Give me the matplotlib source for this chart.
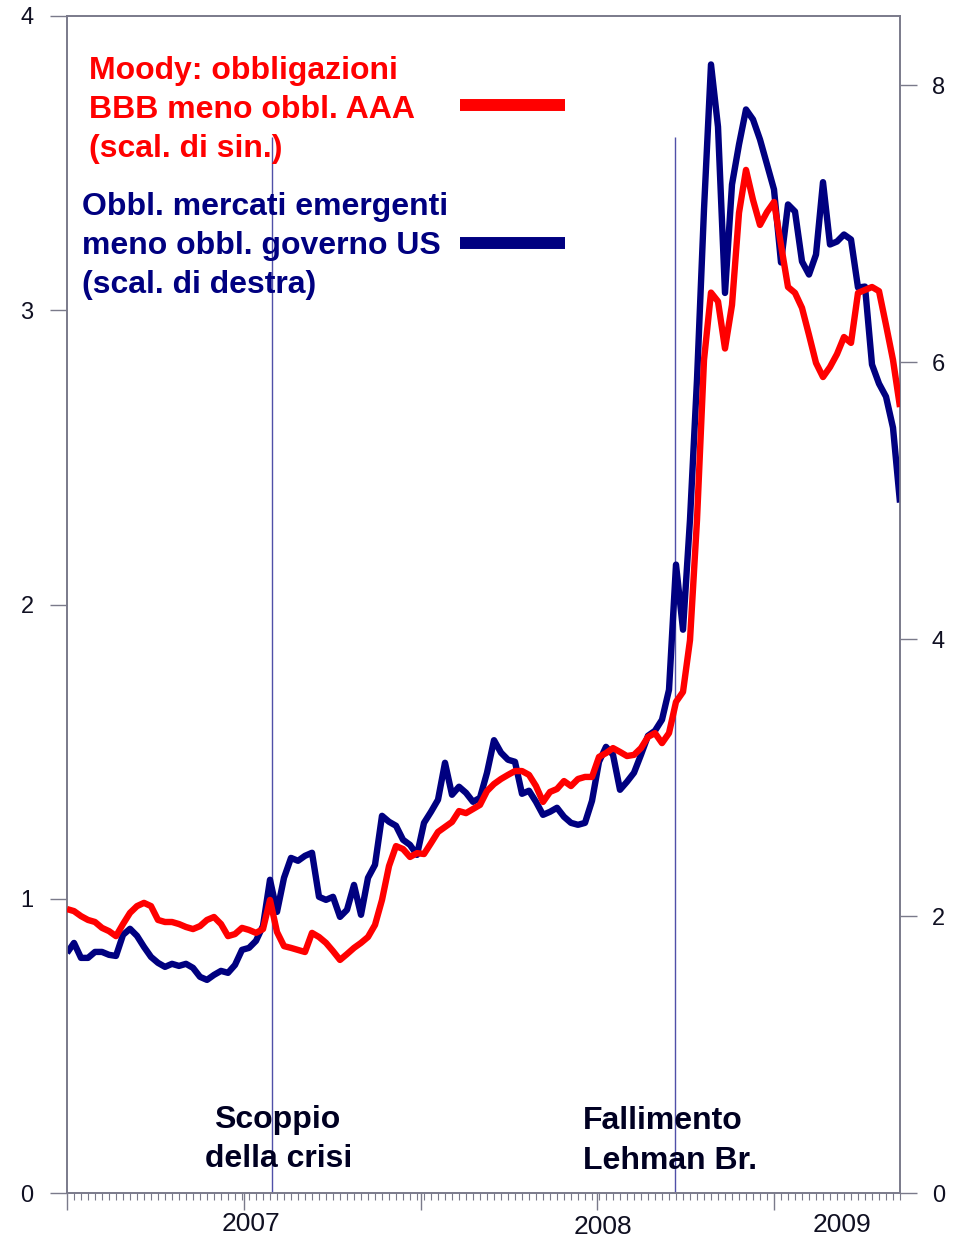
import matplotlib
matplotlib.use('Agg')
import matplotlib.pyplot as plt
from matplotlib.lines import Line2D
import matplotlib.transforms as mtransforms

plt.rcParams['font.family'] = ['Liberation Sans', 'DejaVu Sans']

# ---------------- data ----------------
weeks = list(range(120))

bbb_aaa = [0.965, 0.958, 0.941, 0.928, 0.921, 0.901, 0.890, 0.873, 0.914, 0.952,
           0.975, 0.986, 0.975, 0.928, 0.921, 0.921, 0.914, 0.904, 0.897, 0.907,
           0.928, 0.938, 0.914, 0.873, 0.880, 0.901, 0.894, 0.884, 0.897, 0.996,
           0.887, 0.839, 0.833, 0.826, 0.819, 0.884, 0.870, 0.850, 0.822, 0.792,
           0.812, 0.833, 0.850, 0.870, 0.911, 0.996, 1.111, 1.179, 1.169, 1.142,
           1.155, 1.152, 1.189, 1.227, 1.244, 1.261, 1.298, 1.291, 1.305, 1.319,
           1.366, 1.390, 1.407, 1.421, 1.434, 1.434, 1.421, 1.383, 1.329, 1.363,
           1.373, 1.400, 1.383, 1.407, 1.414, 1.414, 1.482, 1.495, 1.512, 1.499,
           1.485, 1.489, 1.512, 1.550, 1.563, 1.529, 1.563, 1.669, 1.703, 1.879,
           2.287, 2.831, 3.060, 3.030, 2.870, 3.018, 3.331, 3.477, 3.375, 3.290,
           3.334, 3.368, 3.222, 3.079, 3.059, 3.008, 2.916, 2.821, 2.773, 2.807,
           2.851, 2.909, 2.889, 3.059, 3.069, 3.079, 3.065, 2.950, 2.831, 2.671]

em_us = [1.734, 1.806, 1.698, 1.698, 1.741, 1.741, 1.720, 1.712, 1.864, 1.908,
         1.857, 1.777, 1.705, 1.662, 1.633, 1.655, 1.640, 1.655, 1.626, 1.561,
         1.539, 1.575, 1.604, 1.590, 1.647, 1.756, 1.770, 1.821, 1.929, 2.262,
         2.030, 2.276, 2.420, 2.399, 2.435, 2.457, 2.139, 2.117, 2.139, 1.994,
         2.045, 2.225, 2.009, 2.276, 2.370, 2.724, 2.681, 2.652, 2.551, 2.514,
         2.442, 2.673, 2.753, 2.840, 3.107, 2.876, 2.934, 2.890, 2.825, 2.854,
         3.035, 3.270, 3.180, 3.129, 3.114, 2.883, 2.905, 2.825, 2.731, 2.753,
         2.782, 2.717, 2.673, 2.659, 2.673, 2.832, 3.114, 3.222, 3.165, 2.912,
         2.970, 3.035, 3.165, 3.302, 3.338, 3.418, 3.634, 4.538, 4.068, 4.863,
         5.874, 7.103, 8.150, 7.700, 6.500, 7.283, 7.572, 7.825, 7.753, 7.608,
         7.428, 7.247, 6.720, 7.139, 7.088, 6.727, 6.633, 6.777, 7.300, 6.850,
         6.871, 6.922, 6.886, 6.539, 6.546, 5.983, 5.845, 5.751, 5.527, 4.986]

yticks_left = [0, 1, 2, 3, 4]
yticks_right = [0, 2, 4, 6, 8]
major_xticks = [0, 25.25, 50.5, 75.75, 101]
year_labels = ['2007', '2008', '2009']
year_pos = [26.3, 76.6, 110.7]
event_pos = [29.3, 86.9]
event_top = 3.59

legend_red = ['Moody: obbligazioni', 'BBB meno obbl. AAA', '(scal. di sin.)']
legend_blue = ['Obbl. mercati emergenti', 'meno obbl. governo US', '(scal. di destra)']
event1_lines = ['Scoppio', 'della crisi']
event2_lines = ['Fallimento', 'Lehman Br.']

# ---------------- figure ----------------
W, H = 958, 1239
fig = plt.figure(figsize=(W / 100, H / 100), dpi=100, facecolor='white')


def px(x, y):
    return x / W, 1 - y / H


ax = fig.add_axes([67 / W, 46 / H, 833 / W, 1177 / H])
ax2 = ax.twinx()
ax.set_zorder(ax2.get_zorder() + 1)
ax.patch.set_visible(False)

RED = '#FF0000'
NAVY = '#000080'
SPINE = '#7a7a8a'
TXT = '#101022'

# event lines
ax2.vlines(event_pos, 0, event_top * 8.5 / 4, color='#5050a8', lw=1.0, zorder=1)

ax2.plot(weeks, em_us, color=NAVY, lw=4.6, solid_joinstyle='round', solid_capstyle='butt', zorder=3)
ax.plot(weeks, bbb_aaa, color=RED, lw=4.6, solid_joinstyle='round', solid_capstyle='butt', zorder=3)

ax.set_xlim(0, 119)
ax.set_ylim(0, 4)
ax2.set_ylim(0, 8.5)

for a in (ax, ax2):
    for s in a.spines.values():
        s.set_color(SPINE)
        s.set_linewidth(1.2)

ax.set_xticks(major_xticks)
ax.set_xticklabels([''] * len(major_xticks))
ax.set_xticks(weeks, minor=True)
ax.tick_params(axis='x', which='major', length=12, width=1.0, color=SPINE, direction='out')
ax.tick_params(axis='x', which='minor', length=5, width=0.8, color=SPINE, direction='out')

ax.set_yticks(yticks_left)
ax.set_yticklabels([str(v) for v in yticks_left])
ax.tick_params(axis='y', length=12, width=1.0, color=SPINE, pad=12, labelsize=17, labelcolor=TXT)
ax2.set_yticks(yticks_right)
ax2.set_yticklabels([str(v) for v in yticks_right])
ax2.tick_params(axis='y', length=12, width=1.0, color=SPINE, pad=11, labelsize=17, labelcolor=TXT)

trans = mtransforms.blended_transform_factory(ax.transData, ax.transAxes)
year_y = [-0.0263, -0.0289, -0.0272]
for lab, xp, yy in zip(year_labels, year_pos, year_y):
    ax.text(xp, yy, lab, transform=trans, ha='center', va='center', fontsize=19, color=TXT)

# legend texts
red_base = [79, 118, 157]
for t, yb in zip(legend_red, red_base):
    fig.text(*px(89, yb), t, ha='left', va='baseline', fontsize=23, fontweight='bold', color=RED)
blue_base = [215, 254, 293]
for t, yb in zip(legend_blue, blue_base):
    fig.text(*px(82, yb), t, ha='left', va='baseline', fontsize=23, fontweight='bold', color=NAVY)

fig.add_artist(Line2D([460 / W, 565 / W], [1 - 105 / H] * 2, color=RED, lw=8.6, solid_capstyle='butt'))
fig.add_artist(Line2D([460 / W, 565 / W], [1 - 243 / H] * 2, color=NAVY, lw=8.6, solid_capstyle='butt'))

# event annotations
EV = '#000022'
fig.text(*px(277, 1128), event1_lines[0], ha='center', va='baseline', fontsize=23, fontweight='bold', color=EV)
fig.text(*px(279, 1167), event1_lines[1], ha='center', va='baseline', fontsize=23, fontweight='bold', color=EV)
fig.text(*px(583, 1129), event2_lines[0], ha='left', va='baseline', fontsize=23, fontweight='bold', color=EV)
fig.text(*px(583, 1169), event2_lines[1], ha='left', va='baseline', fontsize=23, fontweight='bold', color=EV)

fig.savefig('out.png', dpi=100, facecolor='white')
